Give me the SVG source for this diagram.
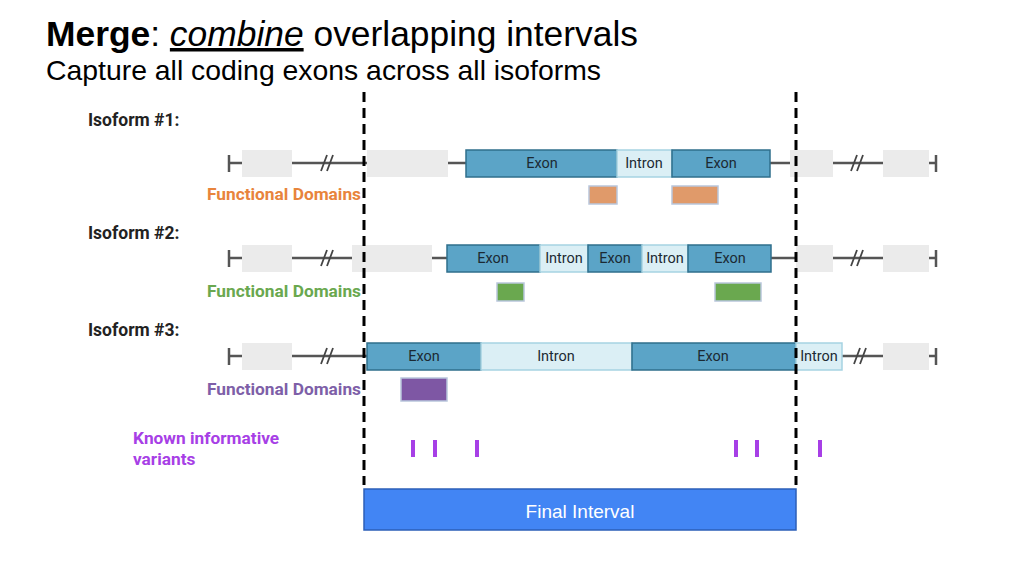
<svg xmlns="http://www.w3.org/2000/svg" width="1024" height="576" viewBox="0 0 1024 576">
<style>
.t{font-family:"Liberation Sans",Arial,sans-serif;fill:#000}
.lab{font-family:Roboto,"Liberation Sans",sans-serif;font-weight:bold;font-size:17.5px;fill:#222}
.fd{font-family:Roboto,"Liberation Sans",sans-serif;font-weight:bold;font-size:17.3px}
.ln{stroke:#555;stroke-width:2.5;fill:none}
.gray{fill:#ebebeb}
.exon{fill:#5ba4c7;stroke:#2f6f8c;stroke-width:1.5}
.intron{fill:#dbeff5;stroke:#a6d3e2;stroke-width:1.5}
.et{font-family:Roboto,"Liberation Sans",sans-serif;font-size:14.5px;fill:#1b2a33;text-anchor:middle}
.dash{stroke:#000;stroke-width:3;stroke-dasharray:10 6}
.var{stroke:#a73fe6;stroke-width:4}
</style>
<defs>
<g id="sl"><line x1="-6" y1="8" x2="0" y2="-8" stroke="#444" stroke-width="1.8"/><line x1="0" y1="8" x2="6" y2="-8" stroke="#444" stroke-width="1.8"/></g>
</defs>

<g id="title">
<text class="t" x="46" y="46" font-size="35" textLength="592" lengthAdjust="spacingAndGlyphs"><tspan font-weight="bold">Merge</tspan>: <tspan font-style="italic" text-decoration="underline">combine</tspan> overlapping intervals</text>
<text class="t" x="46" y="80" font-size="27.5" textLength="555" lengthAdjust="spacingAndGlyphs">Capture all coding exons across all isoforms</text>
</g>

<g id="isoform1">
<text class="lab" x="88" y="126">Isoform #1:</text>
<line class="ln" x1="229" y1="163" x2="466" y2="163"/>
<line class="ln" x1="770" y1="163" x2="936" y2="163"/>
<line class="ln" x1="229" y1="155" x2="229" y2="172"/>
<line class="ln" x1="936" y1="155" x2="936" y2="172"/>
<rect class="gray" x="242" y="150" width="50" height="27"/>
<rect class="gray" x="367" y="150" width="81" height="27"/>
<rect class="gray" x="790" y="150" width="43" height="27"/>
<rect class="gray" x="883" y="150" width="46" height="27"/>
<use href="#sl" x="327" y="163"/>
<use href="#sl" x="857" y="163"/>
<rect class="exon" x="466" y="150" width="151" height="27"/>
<rect class="intron" x="617" y="150" width="55" height="27"/>
<rect class="exon" x="672" y="150" width="98" height="27"/>
<text class="et" x="542" y="168">Exon</text>
<text class="et" x="644" y="168">Intron</text>
<text class="et" x="721" y="168">Exon</text>
<text class="fd" x="207" y="200" fill="#e8843c">Functional Domains</text>
<rect x="589" y="186" width="28" height="18" fill="#e09a6a" stroke="#b9c6dc" stroke-width="1.5"/>
<rect x="672" y="186" width="46" height="18" fill="#e09a6a" stroke="#b9c6dc" stroke-width="1.5"/>
</g>

<g id="isoform2">
<text class="lab" x="88" y="239">Isoform #2:</text>
<line class="ln" x1="229" y1="258" x2="447" y2="258"/>
<line class="ln" x1="770" y1="258" x2="936" y2="258"/>
<line class="ln" x1="229" y1="250" x2="229" y2="267"/>
<line class="ln" x1="936" y1="250" x2="936" y2="267"/>
<rect class="gray" x="242" y="245" width="50" height="27"/>
<rect class="gray" x="352" y="245" width="80" height="27"/>
<rect class="gray" x="796" y="245" width="37" height="27"/>
<rect class="gray" x="883" y="245" width="46" height="27"/>
<use href="#sl" x="327" y="258"/>
<use href="#sl" x="857" y="258"/>
<rect class="exon" x="447" y="245" width="93" height="27"/>
<rect class="intron" x="540" y="245" width="48" height="27"/>
<rect class="exon" x="588" y="245" width="54" height="27"/>
<rect class="intron" x="642" y="245" width="46" height="27"/>
<rect class="exon" x="688" y="245" width="83" height="27"/>
<text class="et" x="493" y="263">Exon</text>
<text class="et" x="564" y="263">Intron</text>
<text class="et" x="615" y="263">Exon</text>
<text class="et" x="665" y="263">Intron</text>
<text class="et" x="730" y="263">Exon</text>
<text class="fd" x="207" y="297" fill="#6aa84f">Functional Domains</text>
<rect x="497" y="283" width="27" height="18" fill="#6aa84f" stroke="#b9c6dc" stroke-width="1.5"/>
<rect x="715" y="283" width="46" height="18" fill="#6aa84f" stroke="#b9c6dc" stroke-width="1.5"/>
</g>

<g id="isoform3">
<text class="lab" x="88" y="336">Isoform #3:</text>
<line class="ln" x1="229" y1="356" x2="367" y2="356"/>
<line class="ln" x1="842" y1="356" x2="936" y2="356"/>
<line class="ln" x1="229" y1="348" x2="229" y2="365"/>
<line class="ln" x1="936" y1="348" x2="936" y2="365"/>
<rect class="gray" x="242" y="343" width="50" height="27"/>
<rect class="gray" x="883" y="343" width="46" height="27"/>
<use href="#sl" x="327" y="356"/>
<use href="#sl" x="860" y="356"/>
<rect class="exon" x="367" y="343" width="114" height="27"/>
<rect class="intron" x="481" y="343" width="151" height="27"/>
<rect class="exon" x="632" y="343" width="164" height="27"/>
<rect class="intron" x="796" y="343" width="46" height="27"/>
<text class="et" x="424" y="361">Exon</text>
<text class="et" x="556" y="361">Intron</text>
<text class="et" x="713" y="361">Exon</text>
<text class="et" x="819" y="361">Intron</text>
<text class="fd" x="207" y="395" fill="#7e5fa8">Functional Domains</text>
<rect x="401" y="378" width="46" height="23" fill="#7e57a4" stroke="#b9c6dc" stroke-width="1.5"/>
</g>

<g id="variants">
<text class="fd" x="133" y="444" fill="#a73fe6">Known informative</text>
<text class="fd" x="133" y="465" fill="#a73fe6">variants</text>
<line class="var" x1="413" y1="440" x2="413" y2="457"/>
<line class="var" x1="435" y1="440" x2="435" y2="457"/>
<line class="var" x1="477" y1="440" x2="477" y2="457"/>
<line class="var" x1="736" y1="440" x2="736" y2="457"/>
<line class="var" x1="757" y1="440" x2="757" y2="457"/>
<line class="var" x1="820" y1="440" x2="820" y2="457"/>
</g>

<g id="connectors">
<line class="dash" x1="364" y1="92" x2="364" y2="485"/>
<line class="dash" x1="796" y1="92" x2="796" y2="485"/>
</g>

<g id="final">
<rect x="364" y="489" width="432" height="41" fill="#4285f4" stroke="#2c5fb8" stroke-width="1.5"/>
<text x="580" y="518" font-family="Liberation Sans,Arial,sans-serif" font-size="19" fill="#fff" text-anchor="middle">Final Interval</text>
</g>
</svg>
